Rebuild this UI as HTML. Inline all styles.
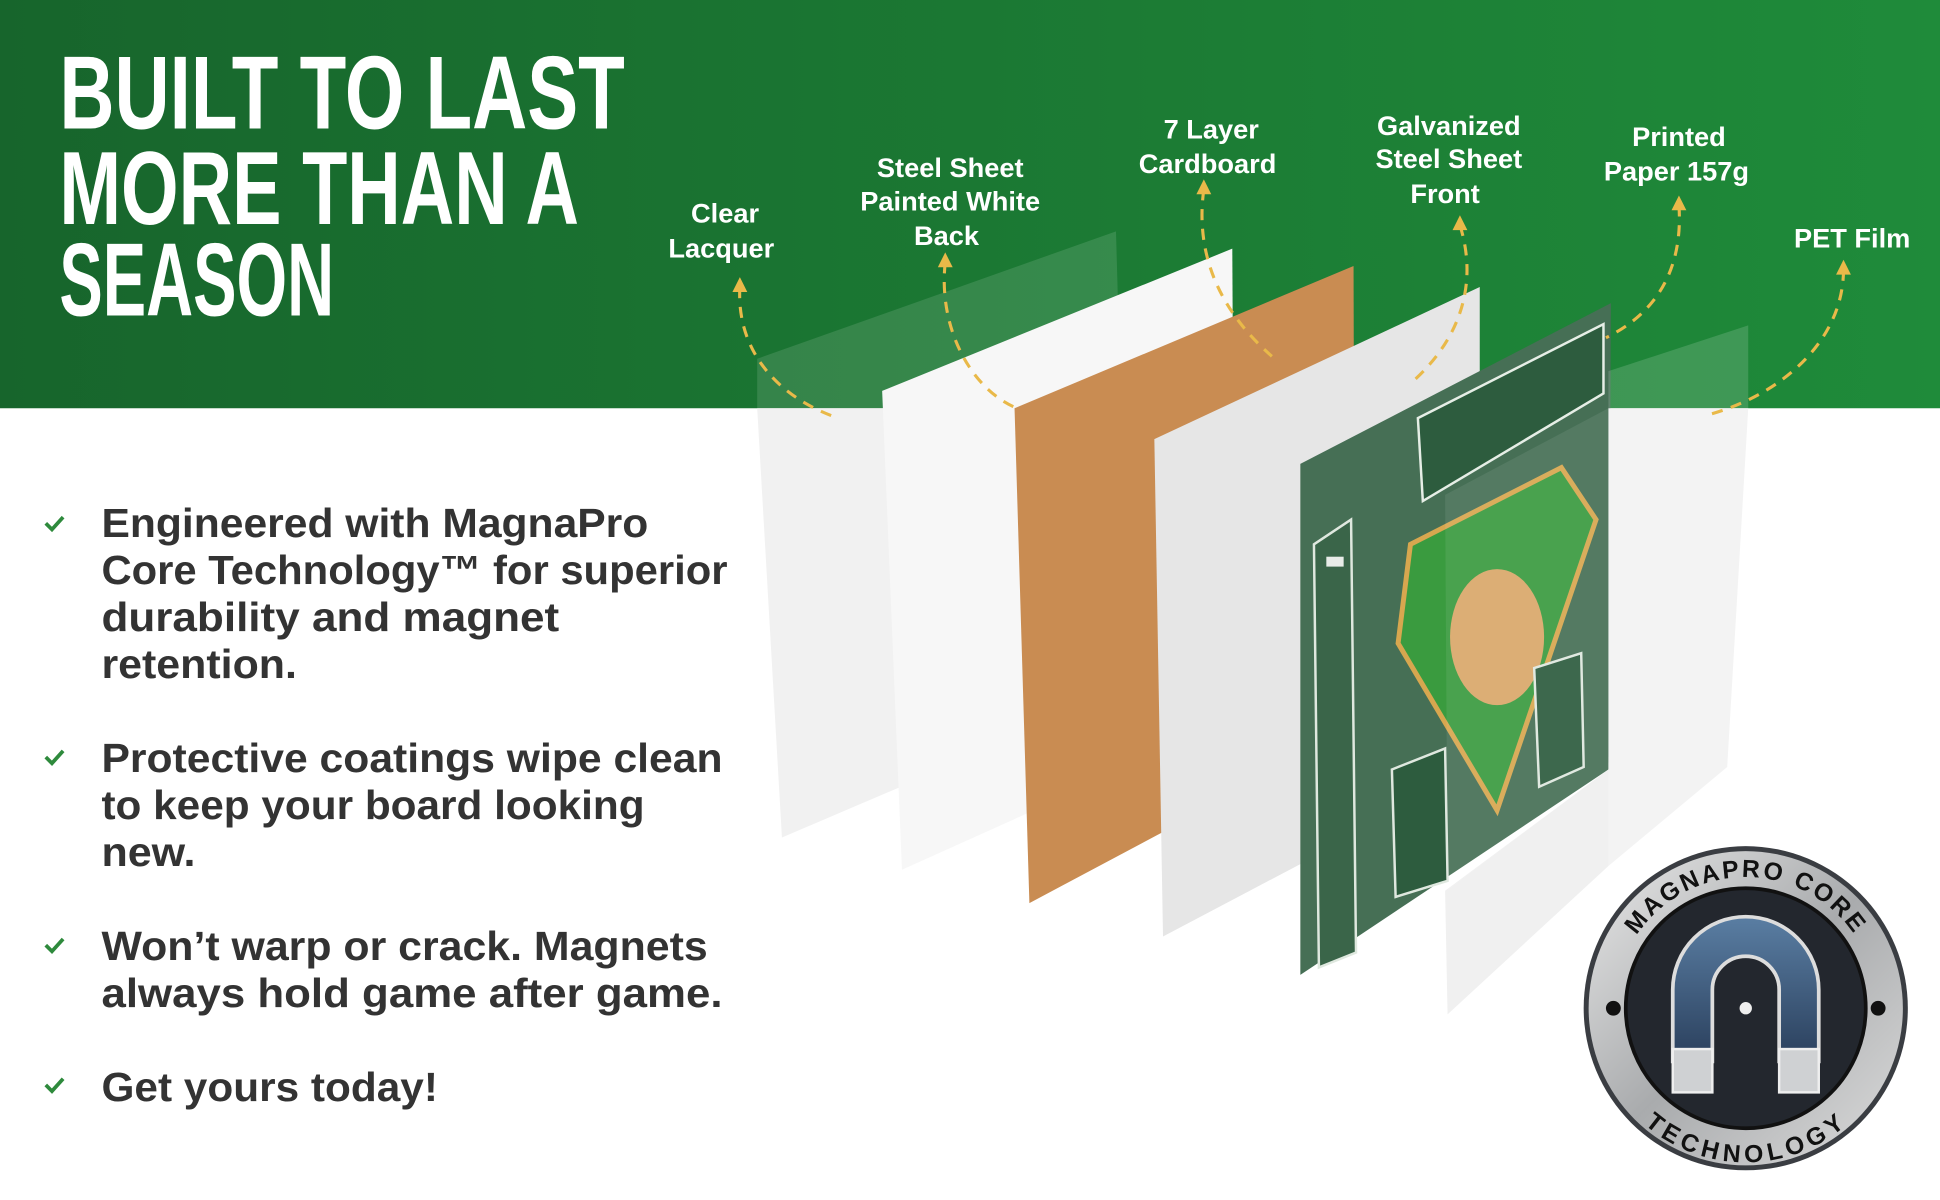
<!DOCTYPE html>
<html><head><meta charset="utf-8"><style>
html,body{margin:0;padding:0;background:#fff;width:1940px;height:1200px;overflow:hidden}
svg{display:block}
text{font-family:"Liberation Sans",sans-serif}
</style></head><body>
<svg width="1940" height="1200" viewBox="0 0 1568 970" preserveAspectRatio="none" xmlns="http://www.w3.org/2000/svg">
<defs>
<linearGradient id="g" x1="0" x2="1" y1="0" y2="0"><stop offset="0" stop-color="#17652c"/><stop offset="1" stop-color="#1f8b3a"/></linearGradient>
<linearGradient id="met" x1="0" x2="1" y1="0" y2="1"><stop offset="0" stop-color="#e8e8e8"/><stop offset="0.5" stop-color="#a9abad"/><stop offset="1" stop-color="#dcdcdc"/></linearGradient>
<linearGradient id="blu" x1="0" x2="0" y1="0" y2="1"><stop offset="0" stop-color="#5a7ea3"/><stop offset="1" stop-color="#2a3f5c"/></linearGradient>
<path id="arcT" d="M1305,815 A106,106 0 0 1 1517,815"/>
<path id="arcB" d="M1300,815 A111,111 0 0 0 1522,815"/>
</defs>
<rect x="0" y="0" width="1568" height="330" fill="url(#g)"/>
<g fill="#fff" font-weight="bold" font-family="Liberation Sans Narrow, Liberation Sans, sans-serif">
<text x="48" y="104" font-size="84" textLength="457" lengthAdjust="spacingAndGlyphs">BUILT TO LAST</text>
<text x="48" y="181" font-size="84" textLength="420" lengthAdjust="spacingAndGlyphs">MORE THAN A</text>
<text x="48" y="255" font-size="84" textLength="222" lengthAdjust="spacingAndGlyphs">SEASON</text>
</g>
<g fill="#fff" font-weight="bold" font-size="22" text-anchor="middle">
<text x="586" y="180">Clear</text><text x="583" y="208">Lacquer</text>
<text x="768" y="143">Steel Sheet</text><text x="768" y="170">Painted White</text><text x="765" y="198">Back</text>
<text x="979" y="112">7 Layer</text><text x="976" y="140">Cardboard</text>
<text x="1171" y="109">Galvanized</text><text x="1171" y="136">Steel Sheet</text><text x="1168" y="164">Front</text>
<text x="1357" y="118">Printed</text><text x="1355" y="146">Paper 157g</text>
<text x="1497" y="200">PET Film</text>
</g>
<!-- sheets -->
<polygon points="612,290 902,187 906,330 612,330" fill="#ffffff" opacity="0.12"/>
<polygon points="612,330 906,330 906,560 632,677" fill="#f1f1f1"/>
<polygon points="713,316 996,201 998,582 729,703" fill="#f7f7f7"/>
<polygon points="820,330 1094,215 1095,590 832,730" fill="#c98c52"/>
<polygon points="933,355 1196,232 1196,622 940,757" fill="#e6e6e6"/>
<polygon points="1051,375 1302,245 1300,622 1051,788" fill="#466f55"/>
<polygon points="1062,440 1092,420 1096,770 1066,782" fill="#3a6549" stroke="#dfe8df" stroke-width="2"/>
<rect x="1072" y="450" width="14" height="8" fill="#e8ece8"/>
<polygon points="1146,338 1296,262 1296,318 1150,405" fill="#2d5c3e" stroke="#e6eee6" stroke-width="2"/>
<polygon points="1140,440 1262,378 1290,420 1210,655 1130,520" fill="#3a9b3f" stroke="#d7a74f" stroke-width="4"/>
<ellipse cx="1210" cy="515" rx="38" ry="55" fill="#d9a86a"/>
<polygon points="1240,540 1278,528 1280,620 1244,636" fill="#2d5c3e" stroke="#dfe8df" stroke-width="2"/>
<polygon points="1125,622 1168,605 1170,712 1128,725" fill="#2d5c3e" stroke="#dfe8df" stroke-width="2"/>
<polygon points="1300,300 1413,263 1413,330 1300,330" fill="#ffffff" opacity="0.15"/>
<polygon points="1300,330 1413,330 1396,620 1300,700" fill="#f3f3f3"/>
<polygon points="1168,720 1300,622 1300,700 1170,820" fill="#f0f0f0"/>
<polygon points="1168,400 1300,330 1300,622 1170,720" fill="#ffffff" opacity="0.08"/>
<!-- arrows -->
<g fill="none" stroke="#e9b949" stroke-width="2.5" stroke-dasharray="9,7">
<path d="M598,232 C595,285 630,320 672,336"/>
<path d="M764,212 C758,265 785,315 822,330"/>
<path d="M973,153 C965,210 990,255 1028,288"/>
<path d="M1180,182 C1195,230 1180,275 1140,310"/>
<path d="M1357,166 C1360,210 1345,250 1298,273"/>
<path d="M1490,218 C1490,275 1440,320 1378,336"/>
</g>
<g fill="#e9b949">
<path d="M598,224 l-6,12 h12z"/><path d="M764,204 l-6,12 h12z"/><path d="M973,145 l-6,12 h12z"/>
<path d="M1180,174 l-6,12 h12z"/><path d="M1357,158 l-6,12 h12z"/><path d="M1490,210 l-6,12 h12z"/>
</g>
<!-- bullets -->
<g fill="none" stroke="#2e8a3c" stroke-width="3"><path d="M37,423 l5,5 l9,-10"/><path d="M37,612 l5,5 l9,-10"/><path d="M37,764 l5,5 l9,-10"/><path d="M37,877 l5,5 l9,-10"/></g>
<g fill="#333" font-size="33" font-weight="600">
<text x="82" y="434" textLength="442" lengthAdjust="spacingAndGlyphs">Engineered with <tspan font-weight="bold">MagnaPro</tspan></text>
<text x="82" y="472" textLength="506" lengthAdjust="spacingAndGlyphs"><tspan font-weight="bold">Core Technology™</tspan> for superior</text>
<text x="82" y="510" textLength="370" lengthAdjust="spacingAndGlyphs">durability and magnet</text>
<text x="82" y="548" textLength="158" lengthAdjust="spacingAndGlyphs">retention.</text>
<text x="82" y="624" textLength="502" lengthAdjust="spacingAndGlyphs">Protective coatings wipe clean</text>
<text x="82" y="662" textLength="439" lengthAdjust="spacingAndGlyphs">to keep your board looking</text>
<text x="82" y="700" textLength="76" lengthAdjust="spacingAndGlyphs">new.</text>
<text x="82" y="776" textLength="490" lengthAdjust="spacingAndGlyphs">Won’t warp or crack. Magnets</text>
<text x="82" y="814" textLength="502" lengthAdjust="spacingAndGlyphs">always hold game after game.</text>
<text x="82" y="890" textLength="272" lengthAdjust="spacingAndGlyphs">Get yours today!</text>
</g>
<!-- badge -->
<circle cx="1411" cy="815" r="131" fill="#3a3d42"/>
<circle cx="1411" cy="815" r="127" fill="url(#met)"/>
<circle cx="1411" cy="815" r="97" fill="#23272e" stroke="#111" stroke-width="3"/>
<path d="M1352,858 V800 a59,59 0 0 1 118,0 V858 H1438 V800 a27,27 0 0 0 -54,0 V858z" fill="url(#blu)" stroke="#ddd" stroke-width="3"/>
<rect x="1352" y="848" width="32" height="35" fill="#cfd1d3" stroke="#eee" stroke-width="2"/>
<rect x="1438" y="848" width="32" height="35" fill="#cfd1d3" stroke="#eee" stroke-width="2"/>
<circle cx="1411" cy="815" r="5" fill="#eee"/>
<circle cx="1304" cy="815" r="6" fill="#111"/><circle cx="1518" cy="815" r="6" fill="#111"/>
<text font-size="20" font-weight="bold" fill="#111" letter-spacing="2"><textPath href="#arcT" startOffset="50%" text-anchor="middle">MAGNAPRO CORE</textPath></text>
<text font-size="20" font-weight="bold" fill="#111" letter-spacing="2"><textPath href="#arcB" startOffset="50%" text-anchor="middle" dominant-baseline="hanging">TECHNOLOGY</textPath></text>
</svg>
</body></html>
